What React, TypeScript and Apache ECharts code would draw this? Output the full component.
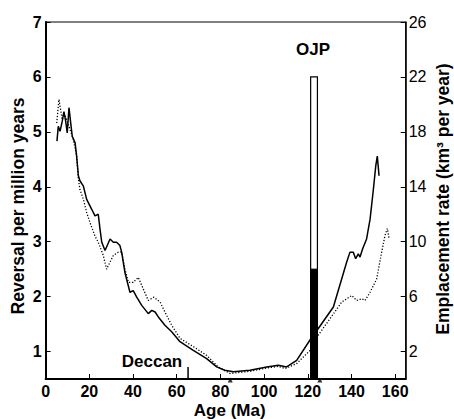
import React, { useEffect, useRef } from "react";
import * as echarts from "echarts";

const solidSeries: [number, number][] = [
  [5.2, 4.83], [5.8, 5.1], [6.6, 5.01], [7.6, 5.19], [8.4, 5.37], [9.2, 5.19], [9.9, 4.98],
  [10.7, 5.44], [11.5, 5.16], [12.2, 4.92], [13.5, 4.8], [14.2, 4.56], [15.0, 4.2], [15.7, 4.11],
  [17.3, 4.01], [18.8, 3.77], [21.1, 3.59], [22.6, 3.47], [24.1, 3.5], [24.9, 3.23], [25.7, 2.99],
  [27.2, 2.84], [29.5, 3.05], [31.0, 2.99], [32.5, 2.99], [34.0, 2.93], [34.8, 2.81], [36.3, 2.44],
  [38.6, 2.08], [40.1, 2.11], [41.7, 1.99], [44.0, 1.84], [47.0, 1.69], [48.6, 1.75], [50.1, 1.72],
  [51.6, 1.63], [54.6, 1.48], [57.7, 1.36], [61.5, 1.18], [67.6, 1.02], [73.7, 0.87], [78.3, 0.72],
  [82.0, 0.66], [85.9, 0.63], [93.5, 0.66], [101.2, 0.72], [106.5, 0.75], [110.3, 0.72],
  [114.9, 0.84], [121.0, 1.21], [124.8, 1.42], [131.7, 1.81], [135.5, 2.32], [137.8, 2.63],
  [139.3, 2.81], [140.8, 2.81], [141.9, 2.69], [143.1, 2.78], [143.9, 2.72], [145.1, 2.87],
  [146.9, 3.05], [148.5, 3.41], [150.0, 3.95], [151.1, 4.38], [151.8, 4.56], [152.6, 4.2],
];

const dottedSeries: [number, number][] = [
  [5.1, 5.16], [6.1, 5.59], [6.9, 5.4], [7.6, 5.22], [8.4, 5.34], [9.7, 5.22], [10.7, 5.1],
  [12.7, 4.86], [14.2, 4.56], [15.0, 4.14], [15.7, 3.95], [17.3, 3.77], [18.8, 3.53], [20.3, 3.35],
  [21.5, 3.22], [22.6, 3.1], [24.1, 2.99], [26.4, 2.75], [27.9, 2.5], [29.5, 2.63], [31.0, 2.75],
  [33.3, 2.81], [34.8, 2.81], [36.3, 2.5], [37.9, 2.26], [40.1, 2.26], [42.4, 2.35], [44.7, 2.14],
  [47.0, 1.93], [49.6, 1.99], [52.4, 1.9], [54.6, 1.72], [57.7, 1.48], [61.5, 1.24], [67.6, 1.09],
  [73.7, 0.93], [79.0, 0.72], [84.4, 0.6], [93.5, 0.64], [101.2, 0.7], [106.5, 0.73], [109.6, 0.69],
  [114.9, 0.78], [121.0, 1.02], [124.8, 1.3], [130.2, 1.6], [135.5, 1.9], [140.1, 2.02],
  [142.4, 1.93], [144.7, 1.96], [146.2, 1.93], [148.5, 2.08], [151.5, 2.32], [153.8, 2.81],
  [155.3, 3.11], [156.4, 3.24], [157.2, 3.05],
];

const xTicks = [0, 20, 40, 60, 80, 100, 120, 140, 160];
const leftTicks = [1, 2, 3, 4, 5, 6, 7];
const rightTicks = [2, 6, 10, 14, 18, 22, 26];

const ojpRange = [121.3, 124.4];
const ojpTotal = 22;
const ojpBlack = 8;
const deccanAge = 65.2;
const superchronMarks = [84.5, 125.5];

const FONT = "'Liberation Sans', Arial, Helvetica, sans-serif";

export default function App() {
  const ref = useRef<HTMLDivElement>(null);

  useEffect(() => {
    if (!ref.current) return;
    const chart = echarts.init(ref.current, null, { renderer: "svg" });
    const option: any = {
      animation: false,
      backgroundColor: "#ffffff",
      grid: {
        left: 45.6,
        right: 48.3,
        top: 22,
        bottom: 40,
        show: true,
        borderColor: "#000",
        borderWidth: 1,
        backgroundColor: "transparent",
      },
      xAxis: {
        type: "value",
        min: 0,
        max: 164.8,
        splitLine: { show: false },
        axisLine: { show: true, onZero: false, lineStyle: { color: "#000", width: 2 } },
        axisTick: { show: true, inside: true, length: 5, customValues: xTicks, lineStyle: { color: "#000", width: 1 } },
        axisLabel: {
          customValues: xTicks,
          color: "#000",
          fontFamily: FONT,
          fontSize: 16,
          fontWeight: "bold",
          margin: 4,
        },
      },
      yAxis: [
        {
          type: "value",
          min: 0.5,
          max: 7,
          position: "left",
          splitLine: { show: false },
          axisLine: { show: true, onZero: false, lineStyle: { color: "#000", width: 2 } },
          axisTick: { show: true, inside: true, length: 5, customValues: leftTicks, lineStyle: { color: "#000" } },
          axisLabel: {
            customValues: leftTicks,
            color: "#000",
            fontFamily: FONT,
            fontSize: 16,
            fontWeight: "bold",
            margin: 4,
          },
        },
        {
          type: "value",
          min: 0,
          max: 26,
          position: "right",
          splitLine: { show: false },
          axisLine: { show: true, onZero: false, lineStyle: { color: "#000", width: 1.5 } },
          axisTick: { show: true, inside: true, length: 5, customValues: rightTicks, lineStyle: { color: "#000" } },
          axisLabel: {
            customValues: rightTicks,
            color: "#000",
            fontFamily: FONT,
            fontSize: 16,
            margin: 3,
          },
        },
      ],
      series: [
        {
          type: "custom",
          yAxisIndex: 1,
          z: 3,
          data: [[ojpRange[0], ojpRange[1], ojpTotal, ojpBlack]],
          renderItem: (params: any, api: any) => {
            const x0 = api.value(0);
            const x1 = api.value(1);
            const top = api.value(2);
            const blk = api.value(3);
            const pTopLeft = api.coord([x0, top]);
            const pBlk = api.coord([x0, blk]);
            const pBot = api.coord([x1, 0]);
            return {
              type: "group",
              children: [
                {
                  type: "rect",
                  shape: { x: pTopLeft[0], y: pTopLeft[1], width: pBot[0] - pTopLeft[0], height: pBot[1] - pTopLeft[1] },
                  style: { fill: "#fff", stroke: "#000", lineWidth: 1.2 },
                },
                {
                  type: "rect",
                  shape: { x: pBlk[0], y: pBlk[1], width: pBot[0] - pBlk[0], height: pBot[1] - pBlk[1] },
                  style: { fill: "#000", stroke: "#000", lineWidth: 1 },
                },
              ],
            };
          },
        },
        {
          type: "line",
          data: dottedSeries,
          showSymbol: false,
          symbol: "none",
          z: 4,
          lineStyle: { color: "#000", width: 1.3, type: [1.2, 1.8] },
        },
        {
          type: "line",
          data: solidSeries,
          showSymbol: false,
          symbol: "none",
          z: 5,
          lineStyle: { color: "#000", width: 1.5 },
        },
        {
          type: "line",
          data: [[deccanAge, 0.5], [deccanAge, 0.72]],
          showSymbol: false,
          symbol: "none",
          z: 5,
          lineStyle: { color: "#000", width: 1.5 },
        },
        {
          type: "scatter",
          data: superchronMarks.map((a) => [a, 0.5]),
          symbol: "triangle",
          symbolSize: 5,
          symbolOffset: [0, 1],
          clip: false,
          z: 6,
          itemStyle: { color: "#000" },
        },
      ],
      graphic: [
        {
          type: "text",
          x: 18,
          y: 206,
          rotation: Math.PI / 2,
          style: {
            text: "Reversal per million years",
            font: `bold 17.5px ${FONT}`,
            fill: "#000",
            align: "center",
            verticalAlign: "middle",
          },
        },
        {
          type: "text",
          x: 443,
          y: 199,
          rotation: Math.PI / 2,
          style: {
            text: "Emplacement rate (km³ per year)",
            font: `bold 17.5px ${FONT}`,
            fill: "#000",
            align: "center",
            verticalAlign: "middle",
          },
        },
        {
          type: "text",
          x: 229.7,
          y: 410.5,
          style: {
            text: "Age (Ma)",
            font: `bold 17px ${FONT}`,
            fill: "#000",
            align: "center",
            verticalAlign: "middle",
          },
        },
        {
          type: "text",
          x: 152,
          y: 361,
          style: {
            text: "Deccan",
            font: `bold 17px ${FONT}`,
            fill: "#000",
            align: "center",
            verticalAlign: "middle",
          },
        },
        {
          type: "text",
          x: 313,
          y: 49,
          style: {
            text: "OJP",
            font: `bold 17px ${FONT}`,
            fill: "#000",
            align: "center",
            verticalAlign: "middle",
          },
        },
      ],
    };
    chart.setOption(option);
    return () => chart.dispose();
  }, []);

  return (
    <div
      ref={ref}
      style={{ position: "fixed", left: 0, top: 0, width: 454, height: 419 }}
    />
  );
}
